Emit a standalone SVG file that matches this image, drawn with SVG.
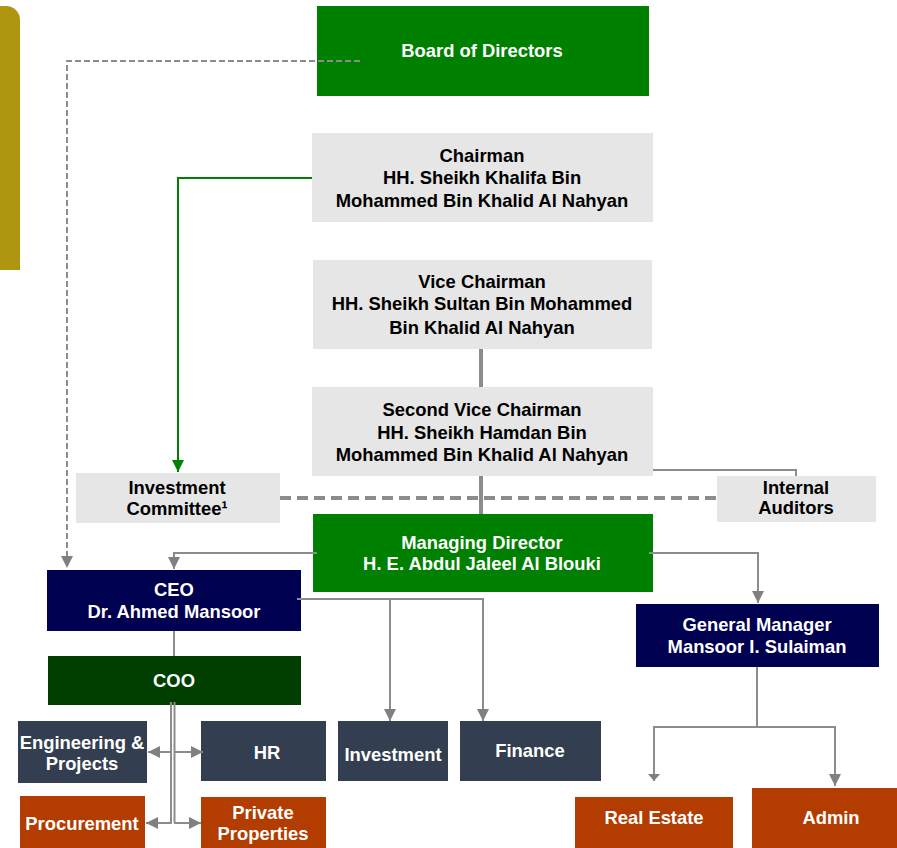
<svg xmlns="http://www.w3.org/2000/svg" width="897" height="848" viewBox="0 0 897 848">
<defs>
<style>
text{font-family:"Liberation Sans",Arial,sans-serif;font-weight:bold;font-size:18.4px;text-anchor:middle}
.dk{fill:#000000}
.wt{fill:#ffffff}
.gray{fill:#e6e6e6}
.green{fill:#008000}
.navy{fill:#000050}
.coo{fill:#003f00}
.slate{fill:#333f50}
.orange{fill:#b33c00}
.ln{fill:none;stroke:#8c8c8c;stroke-width:2}
.thick{fill:none;stroke:#8c8c8c;stroke-width:4}
</style>
<marker id="ag" viewBox="0 0 12 12" refX="12" refY="6" markerWidth="12" markerHeight="12" markerUnits="userSpaceOnUse" orient="auto">
<path d="M0,0 L12,6 L0,12 z" fill="#808080"/>
</marker>
<marker id="agr" viewBox="0 0 12 12" refX="12" refY="6" markerWidth="12" markerHeight="12" markerUnits="userSpaceOnUse" orient="auto">
<path d="M0,0 L12,6 L0,12 z" fill="#008000"/>
</marker>
</defs>
<rect width="897" height="848" fill="#ffffff"/>
<path d="M-10 6 H6 A14 14 0 0 1 20 20 V270 H-10 Z" fill="#b09610"/>

<g id="board">
<rect class="green" x="317" y="6" width="332" height="90"/>
<text class="wt" x="482" y="57">Board of Directors</text>
</g>
<g id="chairman">
<rect class="gray" x="312" y="133" width="341" height="89"/>
<text class="dk" x="482" y="161.5">Chairman</text>
<text class="dk" x="482" y="184">HH. Sheikh Khalifa Bin</text>
<text class="dk" x="482" y="206.5">Mohammed Bin Khalid Al Nahyan</text>
</g>
<g id="vice-chairman">
<rect class="gray" x="313" y="260" width="339" height="89"/>
<text class="dk" x="482" y="287.5">Vice Chairman</text>
<text class="dk" x="482" y="309.5">HH. Sheikh Sultan Bin Mohammed</text>
<text class="dk" x="482" y="333.5">Bin Khalid Al Nahyan</text>
</g>
<g id="second-vice-chairman">
<rect class="gray" x="312" y="387" width="341" height="89"/>
<text class="dk" x="482" y="416">Second Vice Chairman</text>
<text class="dk" x="482" y="438.5">HH. Sheikh Hamdan Bin</text>
<text class="dk" x="482" y="460.7">Mohammed Bin Khalid Al Nahyan</text>
</g>
<g id="investment-committee">
<rect class="gray" x="76" y="473" width="204" height="50"/>
<text class="dk" x="177" y="494">Investment</text>
<text class="dk" x="177" y="515">Committee¹</text>
</g>
<g id="internal-auditors">
<rect class="gray" x="717" y="476" width="159" height="46"/>
<text class="dk" x="796" y="493.5">Internal</text>
<text class="dk" x="796" y="514">Auditors</text>
</g>
<g id="managing-director">
<rect class="green" x="313" y="514" width="340" height="78"/>
<text class="wt" x="482" y="549">Managing Director</text>
<text class="wt" x="482" y="569.5">H. E. Abdul Jaleel Al Blouki</text>
</g>
<g id="ceo">
<rect class="navy" x="47" y="570" width="254" height="61"/>
<text class="wt" x="174" y="596">CEO</text>
<text class="wt" x="174" y="618">Dr. Ahmed Mansoor</text>
</g>
<g id="general-manager">
<rect class="navy" x="636" y="604" width="243" height="63"/>
<text class="wt" x="757" y="631">General Manager</text>
<text class="wt" x="757" y="653">Mansoor I. Sulaiman</text>
</g>
<g id="coo">
<rect class="coo" x="48" y="656" width="253" height="49"/>
<text class="wt" x="174" y="687">COO</text>
</g>
<g id="engineering">
<rect class="slate" x="18" y="721" width="129" height="62"/>
<text class="wt" x="82" y="748.5">Engineering &amp;</text>
<text class="wt" x="82" y="769.5">Projects</text>
</g>
<g id="hr">
<rect class="slate" x="201" y="721" width="125" height="60"/>
<text class="wt" x="267" y="759">HR</text>
</g>
<g id="investment">
<rect class="slate" x="338" y="721" width="110" height="60"/>
<text class="wt" x="393" y="761">Investment</text>
</g>
<g id="finance">
<rect class="slate" x="460" y="721" width="141" height="60"/>
<text class="wt" x="530" y="757">Finance</text>
</g>
<g id="procurement">
<rect class="orange" x="20" y="796" width="125" height="60"/>
<text class="wt" x="82" y="830">Procurement</text>
</g>
<g id="private-properties">
<rect class="orange" x="201" y="797" width="125" height="60"/>
<text class="wt" x="263" y="818.5">Private</text>
<text class="wt" x="263" y="840">Properties</text>
</g>
<g id="real-estate">
<rect class="orange" x="575" y="797" width="158" height="60"/>
<text class="wt" x="654" y="824">Real Estate</text>
</g>
<g id="admin">
<rect class="orange" x="752" y="788" width="160" height="70"/>
<text class="wt" x="831" y="824">Admin</text>
</g>

<g id="connectors">
<path class="ln" d="M360 61 H67 V568" stroke-dasharray="6 3" marker-end="url(#ag)"/>
<path d="M312 178 H178 V472" fill="none" stroke="#008000" stroke-width="2" marker-end="url(#agr)"/>
<path class="thick" d="M481 349 V387"/>
<path class="thick" d="M481 476 V514"/>
<path class="ln" d="M653 470 H796 V476" stroke-width="1.5"/>
<path class="thick" d="M280 498 H717" stroke-dasharray="11 6"/>
<path class="ln" d="M317 553 H174 V569" marker-end="url(#ag)"/>
<path class="ln" d="M649 553 H758 V603" marker-end="url(#ag)"/>
<path class="ln" d="M297 599 H483 V721" marker-end="url(#ag)"/>
<path class="ln" d="M390 599 V721" marker-end="url(#ag)"/>
<path class="ln" d="M174 631 V656"/>
<path class="ln" d="M171 702 V823" stroke-width="1.5"/>
<path class="ln" d="M174.5 702 V823" stroke-width="1.5"/>
<path class="ln" d="M172 752 H148" marker-end="url(#ag)"/>
<path class="ln" d="M174 752 H203" marker-end="url(#ag)"/>
<path class="ln" d="M172 823 H146" marker-end="url(#ag)"/>
<path class="ln" d="M174 823 H201" marker-end="url(#ag)"/>
<path class="ln" d="M757 667 V727"/>
<path class="ln" d="M654 781 V727 H835 V786"/>
<path d="M648 774 L660 774 L654 781 Z" fill="#808080"/>
<path d="M829 774 L841 774 L835 786 Z" fill="#808080"/>
</g>
</svg>
